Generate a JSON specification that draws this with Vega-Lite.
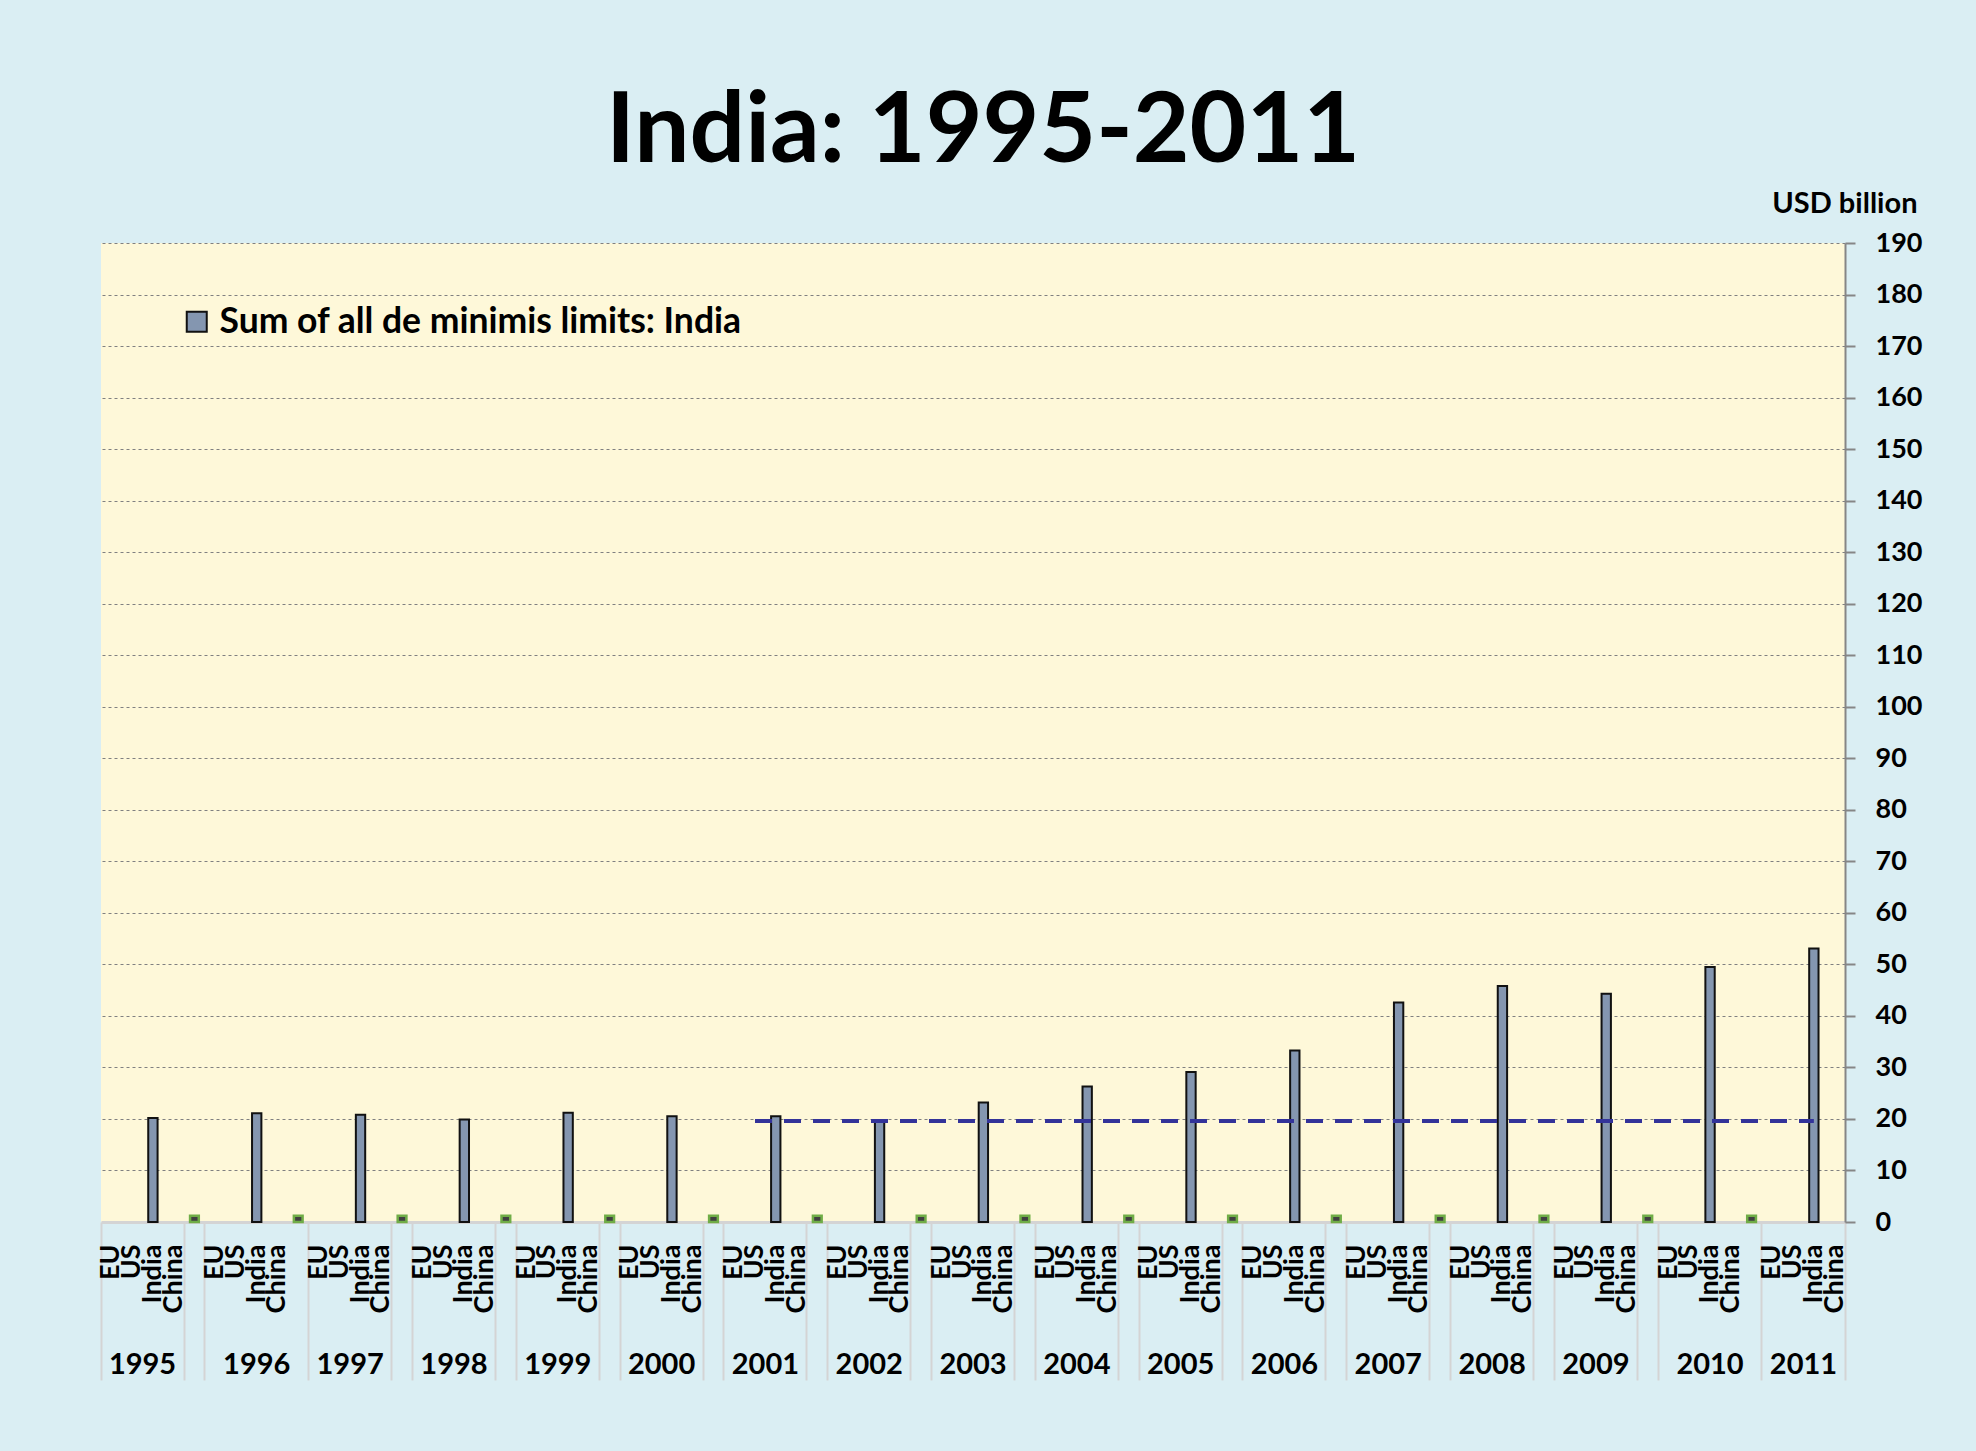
{
  "$schema": "https://vega.github.io/schema/vega-lite/v6.json",
  "autosize": "none",
  "width": 1744,
  "height": 979,
  "padding": {"left": 101, "top": 243, "right": 131, "bottom": 229},
  "background": "#DAEEF3",
  "title": {"text": "India: 1995-2011", "fontSize": 98, "font": "Lato", "fontWeight": "bold", "color": "#000000", "anchor": "middle", "frame": "group", "dx": 10, "offset": 6},
  "datasets": {
    "slots": [
      {"slot":"1995-1"},{"slot":"1995-2"},{"slot":"1995-3"},{"slot":"1995-4"},{"slot":"1995-5"},
      {"slot":"1996-1"},{"slot":"1996-2"},{"slot":"1996-3"},{"slot":"1996-4"},{"slot":"1996-5"},
      {"slot":"1997-1"},{"slot":"1997-2"},{"slot":"1997-3"},{"slot":"1997-4"},{"slot":"1997-5"},
      {"slot":"1998-1"},{"slot":"1998-2"},{"slot":"1998-3"},{"slot":"1998-4"},{"slot":"1998-5"},
      {"slot":"1999-1"},{"slot":"1999-2"},{"slot":"1999-3"},{"slot":"1999-4"},{"slot":"1999-5"},
      {"slot":"2000-1"},{"slot":"2000-2"},{"slot":"2000-3"},{"slot":"2000-4"},{"slot":"2000-5"},
      {"slot":"2001-1"},{"slot":"2001-2"},{"slot":"2001-3"},{"slot":"2001-4"},{"slot":"2001-5"},
      {"slot":"2002-1"},{"slot":"2002-2"},{"slot":"2002-3"},{"slot":"2002-4"},{"slot":"2002-5"},
      {"slot":"2003-1"},{"slot":"2003-2"},{"slot":"2003-3"},{"slot":"2003-4"},{"slot":"2003-5"},
      {"slot":"2004-1"},{"slot":"2004-2"},{"slot":"2004-3"},{"slot":"2004-4"},{"slot":"2004-5"},
      {"slot":"2005-1"},{"slot":"2005-2"},{"slot":"2005-3"},{"slot":"2005-4"},{"slot":"2005-5"},
      {"slot":"2006-1"},{"slot":"2006-2"},{"slot":"2006-3"},{"slot":"2006-4"},{"slot":"2006-5"},
      {"slot":"2007-1"},{"slot":"2007-2"},{"slot":"2007-3"},{"slot":"2007-4"},{"slot":"2007-5"},
      {"slot":"2008-1"},{"slot":"2008-2"},{"slot":"2008-3"},{"slot":"2008-4"},{"slot":"2008-5"},
      {"slot":"2009-1"},{"slot":"2009-2"},{"slot":"2009-3"},{"slot":"2009-4"},{"slot":"2009-5"},
      {"slot":"2010-1"},{"slot":"2010-2"},{"slot":"2010-3"},{"slot":"2010-4"},{"slot":"2010-5"},
      {"slot":"2011-1"},{"slot":"2011-2"},{"slot":"2011-3"},{"slot":"2011-4"}
    ],
    "india": [
      {"slot":"1995-3","series":"Sum of all de minimis limits: India","value":20.2},
      {"slot":"1996-3","series":"Sum of all de minimis limits: India","value":21.1},
      {"slot":"1997-3","series":"Sum of all de minimis limits: India","value":20.8},
      {"slot":"1998-3","series":"Sum of all de minimis limits: India","value":19.9},
      {"slot":"1999-3","series":"Sum of all de minimis limits: India","value":21.2},
      {"slot":"2000-3","series":"Sum of all de minimis limits: India","value":20.5},
      {"slot":"2001-3","series":"Sum of all de minimis limits: India","value":20.5},
      {"slot":"2002-3","series":"Sum of all de minimis limits: India","value":19.6},
      {"slot":"2003-3","series":"Sum of all de minimis limits: India","value":23.2},
      {"slot":"2004-3","series":"Sum of all de minimis limits: India","value":26.3},
      {"slot":"2005-3","series":"Sum of all de minimis limits: India","value":29.1},
      {"slot":"2006-3","series":"Sum of all de minimis limits: India","value":33.3},
      {"slot":"2007-3","series":"Sum of all de minimis limits: India","value":42.6},
      {"slot":"2008-3","series":"Sum of all de minimis limits: India","value":45.8},
      {"slot":"2009-3","series":"Sum of all de minimis limits: India","value":44.3},
      {"slot":"2010-3","series":"Sum of all de minimis limits: India","value":49.5},
      {"slot":"2011-3","series":"Sum of all de minimis limits: India","value":53.1}
    ],
    "small": [
      {"slot":"1995-5","value":1.2},{"slot":"1996-5","value":1.2},{"slot":"1997-5","value":1.2},
      {"slot":"1998-5","value":1.2},{"slot":"1999-5","value":1.2},{"slot":"2000-5","value":1.2},
      {"slot":"2001-5","value":1.2},{"slot":"2002-5","value":1.2},{"slot":"2003-5","value":1.2},
      {"slot":"2004-5","value":1.2},{"slot":"2005-5","value":1.2},{"slot":"2006-5","value":1.2},
      {"slot":"2007-5","value":1.2},{"slot":"2008-5","value":1.2},{"slot":"2009-5","value":1.2},
      {"slot":"2010-5","value":1.2}
    ],
    "limit": [
      {"slot":"2001-2","value":19.6},
      {"slot":"2011-3","value":19.6}
    ]
  },
  "config": {
    "view": {"fill": "#FEF8D9", "stroke": null},
    "font": "Lato"
  },
  "resolve": {"axis": {"x": "independent"}},
  "layer": [
    {
      "data": {"name": "slots"},
      "mark": {"type": "point", "opacity": 0},
      "encoding": {
        "x": {"field": "slot", "type": "nominal", "scale": {"paddingInner": 0, "paddingOuter": 0},
          "axis": {"orient": "bottom", "values": ["1995-1","1995-5","1996-1","1997-1","1997-5","1998-1","1998-5","1999-1","1999-5","2000-1","2000-5","2001-1","2001-5","2002-1","2002-5","2003-1","2003-5","2004-1","2004-5","2005-1","2005-5","2006-1","2006-5","2007-1","2007-5","2008-1","2008-5","2009-1","2009-5","2010-1","2011-1"],
            "bandPosition": 0, "labels": false, "domain": false, "ticks": true, "tickSize": 158, "tickColor": "#D4D4D4", "tickWidth": 2, "grid": false, "title": null}}
      }
    },
    {
      "data": {"name": "slots"},
      "mark": {"type": "point", "opacity": 0},
      "encoding": {
        "x": {"field": "slot", "type": "nominal",
          "axis": {"orient": "bottom", "values": ["2011-4"], "bandPosition": 1, "labels": false, "domain": false, "ticks": true, "tickSize": 158, "tickColor": "#D4D4D4", "tickWidth": 2, "grid": false, "title": null}}
      }
    },
    {
      "data": {"name": "india"},
      "mark": {"type": "bar", "width": {"band": 0.45}, "stroke": "#111111", "strokeWidth": 2},
      "encoding": {
        "x": {"field": "slot", "type": "nominal",
          "axis": {"orient": "bottom", "title": null, "ticks": false, "grid": false, "domain": true, "domainColor": "#D4D4D4", "domainWidth": 3,
            "labelExpr": "['','EU','US','India','China',''][toNumber(split(datum.value,'-')[1])]",
            "labelAngle": -90, "labelAlign": "right", "labelBaseline": "middle", "labelPadding": 22, "labelOverlap": false, "labelFlush": false, "labelBound": false,
            "labelFont": "Lato", "labelFontWeight": "bold", "labelFontSize": 27, "labelColor": "#000000"}},
        "y": {"field": "value", "type": "quantitative", "scale": {"domain": [0, 190], "nice": false, "zero": true},
          "axis": {"orient": "right", "values": [0,10,20,30,40,50,60,70,80,90,100,110,120,130,140,150,160,170,180,190],
            "grid": true, "gridColor": "#808080", "gridDash": [3, 3], "gridWidth": 1,
            "domain": true, "domainColor": "#868686", "domainWidth": 2,
            "ticks": true, "tickColor": "#868686", "tickWidth": 2, "tickSize": 10,
            "labelPadding": 20, "labelFont": "Lato", "labelFontWeight": "bold", "labelFontSize": 27, "labelColor": "#000000", "labelAlign": "left",
            "title": "USD billion", "titleAngle": 0, "titleAlign": "right", "titleBaseline": "alphabetic", "titleX": 72, "titleY": -31,
            "titleFont": "Lato", "titleFontWeight": "bold", "titleFontSize": 29, "titleColor": "#000000"}},
        "color": {"field": "series", "type": "nominal", "scale": {"range": ["#8496B0"]},
          "legend": {"orient": "none", "legendX": 78, "legendY": 61, "title": null, "padding": 0,
            "symbolType": "square", "symbolSize": 400, "symbolStrokeColor": "#111111", "symbolStrokeWidth": 2, "symbolFillColor": "#8496B0",
            "labelFont": "Lato", "labelFontWeight": "bold", "labelFontSize": 35.5, "labelColor": "#000000", "labelOffset": 5, "labelLimit": 1000}}
      }
    },
    {
      "data": {"name": "small"},
      "mark": {"type": "bar", "width": {"band": 0.42}, "fill": "#404040", "stroke": "#70AD47", "strokeWidth": 2.5},
      "encoding": {
        "x": {"field": "slot", "type": "nominal",
          "axis": {"orient": "bottom", "title": null, "ticks": false, "grid": false, "domain": false,
            "values": ["1995-2","1997-2","1998-2","1999-2","2000-2","2001-2","2002-2","2003-2","2004-2","2005-2","2006-2","2007-2","2008-2","2009-2","2011-2"],
            "bandPosition": 0.5, "labelOffset": 10.4, "labelExpr": "split(datum.value,'-')[0]", "labelAngle": 0, "labelAlign": "center", "labelBaseline": "top", "labelPadding": 128,
            "labelFont": "Lato", "labelFontWeight": "bold", "labelFontSize": 29, "labelColor": "#000000", "labelOverlap": false}},
        "y": {"field": "value", "type": "quantitative"}
      }
    },
    {
      "data": {"name": "limit"},
      "mark": {"type": "line", "stroke": "#333399", "strokeWidth": 4, "strokeDash": [17, 12]},
      "encoding": {
        "x": {"field": "slot", "type": "nominal",
          "axis": {"orient": "bottom", "title": null, "ticks": false, "grid": false, "domain": false,
            "values": ["1996-3","2010-3"], "bandPosition": 0.5,
            "labelExpr": "split(datum.value,'-')[0]", "labelAngle": 0, "labelAlign": "center", "labelBaseline": "top", "labelPadding": 128,
            "labelFont": "Lato", "labelFontWeight": "bold", "labelFontSize": 29, "labelColor": "#000000", "labelOverlap": false}},
        "y": {"field": "value", "type": "quantitative"}
      }
    }
  ]
}
